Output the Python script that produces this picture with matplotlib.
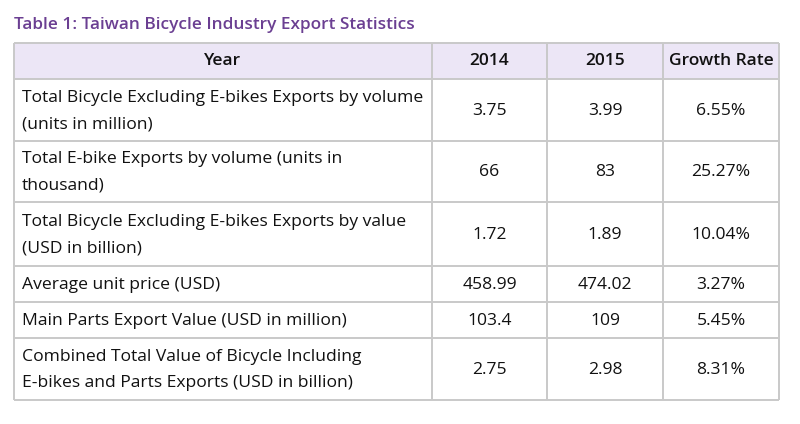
import matplotlib

matplotlib.use("Agg")

import matplotlib.pyplot as plt

title = "Table 1: Taiwan Bicycle Industry Export Statistics"
columns = ["Year", "2014", "2015", "Growth Rate"]
row_labels = [
    "Total Bicycle Excluding E-bikes Exports by volume\n(units in million)",
    "Total E-bike Exports by volume (units in\nthousand)",
    "Total Bicycle Excluding E-bikes Exports by value\n(USD in billion)",
    "Average unit price (USD)",
    "Main Parts Export Value (USD in million)",
    "Combined Total Value of Bicycle Including\nE-bikes and Parts Exports (USD in billion)",
]
values_2014 = ["3.75", "66", "1.72", "458.99", "103.4", "2.75"]
values_2015 = ["3.99", "83", "1.89", "474.02", "109", "2.98"]
growth_rate = ["6.55%", "25.27%", "10.04%", "3.27%", "5.45%", "8.31%"]

FONT = ["Open Sans", "DejaVu Sans"]
col_edges = [14, 432, 547, 663, 779]
row_edges = [43, 79, 141, 202, 266, 302, 338, 400]
border = "#c9c9c9"
header_fill = "#ece6f6"
purple = "#6b3f92"
ink = "#111111"

fig = plt.figure(figsize=(8, 4.24), dpi=100)
ax = fig.add_axes([0, 0, 1, 1])
ax.set_xlim(0, 800)
ax.set_ylim(424, 0)
ax.axis("off")

ax.text(14, 25, title, fontsize=12.4, color=purple, fontweight="semibold",
        family=FONT, va="center", ha="left")

ax.add_patch(plt.Rectangle((col_edges[0], row_edges[0]), col_edges[-1] - col_edges[0],
                           row_edges[1] - row_edges[0], facecolor=header_fill, edgecolor="none"))

for y in row_edges:
    ax.plot([col_edges[0], col_edges[-1]], [y, y], color=border, lw=1.4, solid_capstyle="butt")
for x in col_edges:
    ax.plot([x, x], [row_edges[0], row_edges[-1]], color=border, lw=1.4, solid_capstyle="butt")


def center(a, i):
    return (a[i] + a[i + 1]) / 2


for j, name in enumerate(columns):
    ax.text(center(col_edges, j), center(row_edges, 0), name, fontsize=12.5, color=ink,
            family=FONT, fontweight="semibold", ha="center", va="center")

body = list(zip(values_2014, values_2015, growth_rate))
for i, label in enumerate(row_labels):
    yc = center(row_edges, i + 1) + 1
    ax.text(22, yc, label, fontsize=12.6, color=ink, family=FONT,
            ha="left", va="center", linespacing=1.85)
    for j, val in enumerate(body[i]):
        ax.text(center(col_edges, j + 1), yc, val, fontsize=12.6, color=ink,
                family=FONT, ha="center", va="center")

fig.savefig("out.png", dpi=100)
